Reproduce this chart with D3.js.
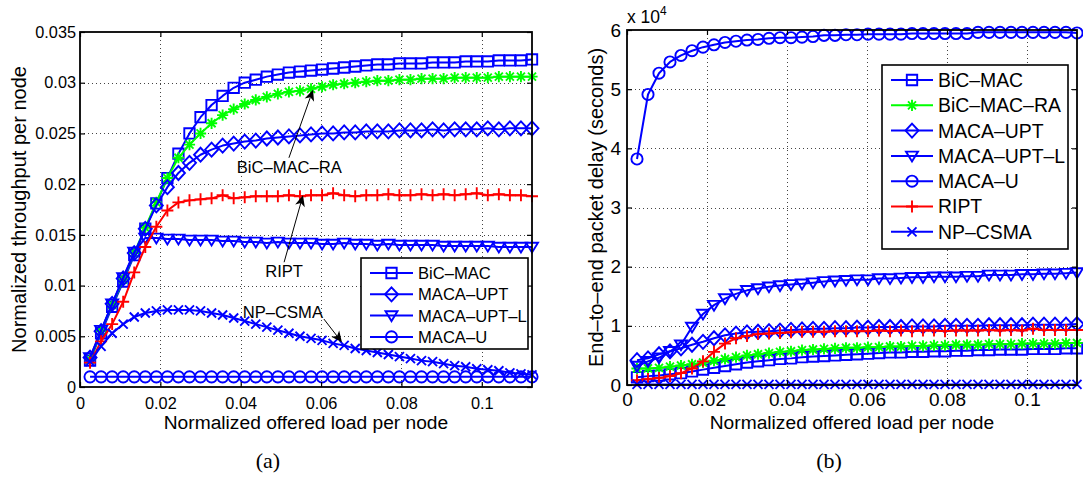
<!DOCTYPE html>
<html>
<head>
<meta charset="utf-8">
<script src="https://cdn.jsdelivr.net/npm/d3@7"></script>
<style>
  body { margin: 0; background: #fff; }
  svg { display: block; font-family: "Liberation Sans", Arial, Helvetica, sans-serif; }
</style>
</head>
<body>
<svg width="1083" height="481"></svg>
<script>
// offered load per node (x values, shared by both panels)
const load = [0.0025, 0.00525, 0.008, 0.01075, 0.0135, 0.01625, 0.019, 0.02175, 0.0245, 0.02725,
  0.03, 0.03275, 0.0355, 0.03825, 0.041, 0.04375, 0.0465, 0.04925, 0.052, 0.05475,
  0.0575, 0.06025, 0.063, 0.06575, 0.0685, 0.07125, 0.074, 0.07675, 0.0795, 0.08225,
  0.085, 0.08775, 0.0905, 0.09325, 0.096, 0.09875, 0.1015, 0.10425, 0.107, 0.10975, 0.1125];

// (a) normalized throughput per node
const thrBicMac = [0.0026, 0.0053, 0.0079, 0.0104, 0.0130, 0.0156, 0.0181, 0.0206, 0.0230, 0.0250,
  0.0266, 0.0278, 0.0287, 0.0295, 0.0300, 0.0303, 0.0306, 0.0308, 0.0310, 0.0311,
  0.0312, 0.0313, 0.0314, 0.0315, 0.0316, 0.0317, 0.0318, 0.0318, 0.0319, 0.0319,
  0.0319, 0.0320, 0.0320, 0.0320, 0.0321, 0.0321, 0.0321, 0.0322, 0.0322, 0.0322, 0.0323];
const thrBicMacRa = [0.0027, 0.0055, 0.0081, 0.0106, 0.0132, 0.0157, 0.0182, 0.0206, 0.0226, 0.0239,
  0.0250, 0.0260, 0.0268, 0.0274, 0.0279, 0.0283, 0.0286, 0.0289, 0.0291, 0.0292,
  0.0294, 0.0296, 0.0298, 0.0299, 0.0300, 0.0301, 0.0302, 0.0302, 0.0303, 0.0303,
  0.0304, 0.0304, 0.0304, 0.0305, 0.0305, 0.0305, 0.0305, 0.0306, 0.0306, 0.0306, 0.0306];
const thrMacaUpt = [0.0029, 0.0055, 0.0082, 0.0107, 0.0132, 0.0156, 0.0179, 0.0197, 0.0211, 0.0221,
  0.0229, 0.0234, 0.0238, 0.0240, 0.0242, 0.0243, 0.0245, 0.0246, 0.0247, 0.0248,
  0.0249, 0.0250, 0.0250, 0.0251, 0.0251, 0.0252, 0.0252, 0.0252, 0.0253, 0.0253,
  0.0253, 0.0254, 0.0253, 0.0254, 0.0254, 0.0254, 0.0255, 0.0254, 0.0255, 0.0255, 0.0255];
const thrMacaUptL = [0.0029, 0.0056, 0.0082, 0.0108, 0.0133, 0.0147, 0.0147, 0.0146, 0.0146, 0.0145,
  0.0145, 0.0145, 0.0144, 0.0144, 0.0143, 0.0143, 0.0142, 0.0143, 0.0142, 0.0142,
  0.0142, 0.0141, 0.0141, 0.0142, 0.0141, 0.0141, 0.0140, 0.0141, 0.0140, 0.0140,
  0.0140, 0.0140, 0.0139, 0.0139, 0.0139, 0.0139, 0.0139, 0.0138, 0.0138, 0.0138, 0.0138];
const thrMacaU = [0.0010, 0.0010, 0.0010, 0.0010, 0.0010, 0.0010, 0.0010, 0.0010, 0.0010, 0.0010,
  0.0010, 0.0010, 0.0010, 0.0010, 0.0010, 0.0010, 0.0010, 0.0010, 0.0010, 0.0010,
  0.0010, 0.0010, 0.0010, 0.0010, 0.0010, 0.0010, 0.0010, 0.0010, 0.0010, 0.0010,
  0.0010, 0.0010, 0.0010, 0.0010, 0.0010, 0.0010, 0.0010, 0.0010, 0.0010, 0.0010, 0.0010];
const thrRipt = [0.0024, 0.0045, 0.0062, 0.0084, 0.0113, 0.0138, 0.0158, 0.0174, 0.0182, 0.0184,
  0.0185, 0.0186, 0.0189, 0.0186, 0.0187, 0.0188, 0.0188, 0.0188, 0.0189, 0.0188,
  0.0189, 0.0189, 0.0191, 0.0189, 0.0188, 0.0189, 0.0189, 0.0190, 0.0189, 0.0189,
  0.0190, 0.0189, 0.0190, 0.0189, 0.0190, 0.0191, 0.0189, 0.0190, 0.0189, 0.0189, 0.0188];
const thrNpCsma = [0.0025, 0.0040, 0.0053, 0.0062, 0.0069, 0.0073, 0.0075, 0.0076, 0.0076, 0.0076,
  0.0075, 0.0073, 0.0071, 0.0068, 0.0065, 0.0062, 0.0059, 0.0056, 0.0053, 0.0050,
  0.0048, 0.0046, 0.0043, 0.0041, 0.0038, 0.0036, 0.0034, 0.0032, 0.0030, 0.0028,
  0.0026, 0.0025, 0.0023, 0.0021, 0.0020, 0.0018, 0.0017, 0.0016, 0.0014, 0.0013, 0.0012];

// (b) end-to-end packet delay, in units of 10^4 seconds
const delBicMac = [0.13, 0.15, 0.16, 0.18, 0.20, 0.23, 0.26, 0.29, 0.32, 0.35,
  0.38, 0.40, 0.42, 0.44, 0.45, 0.47, 0.48, 0.49, 0.50, 0.51,
  0.52, 0.53, 0.54, 0.55, 0.55, 0.56, 0.56, 0.57, 0.57, 0.58,
  0.58, 0.59, 0.59, 0.60, 0.60, 0.60, 0.61, 0.61, 0.61, 0.62, 0.62];
const delBicMacRa = [0.28, 0.28, 0.29, 0.31, 0.33, 0.35, 0.38, 0.41, 0.44, 0.47,
  0.50, 0.52, 0.54, 0.56, 0.57, 0.59, 0.60, 0.61, 0.62, 0.63,
  0.63, 0.64, 0.64, 0.65, 0.65, 0.66, 0.66, 0.67, 0.67, 0.68,
  0.68, 0.68, 0.69, 0.69, 0.69, 0.70, 0.70, 0.70, 0.70, 0.71, 0.71];
const delMacaUpt = [0.42, 0.45, 0.52, 0.57, 0.62, 0.68, 0.73, 0.79, 0.84, 0.87,
  0.89, 0.90, 0.91, 0.92, 0.93, 0.94, 0.95, 0.95, 0.96, 0.96,
  0.97, 0.97, 0.98, 0.98, 0.98, 0.99, 0.99, 0.99, 1.00, 1.00,
  1.00, 1.00, 1.01, 1.01, 1.01, 1.01, 1.02, 1.02, 1.02, 1.02, 1.03];
const delMacaUptL = [0.32, 0.40, 0.46, 0.57, 0.68, 0.98, 1.20, 1.35, 1.46, 1.54,
  1.60, 1.63, 1.66, 1.68, 1.70, 1.71, 1.73, 1.75, 1.76, 1.77,
  1.78, 1.78, 1.80, 1.80, 1.81, 1.82, 1.82, 1.83, 1.83, 1.83,
  1.84, 1.84, 1.86, 1.86, 1.86, 1.87, 1.87, 1.88, 1.88, 1.89, 1.90];
const delMacaU = [3.82, 4.91, 5.27, 5.46, 5.57, 5.65, 5.71, 5.75, 5.79, 5.81,
  5.83, 5.84, 5.86, 5.87, 5.87, 5.88, 5.89, 5.91, 5.91, 5.92,
  5.92, 5.93, 5.93, 5.93, 5.93, 5.94, 5.94, 5.94, 5.94, 5.94,
  5.94, 5.96, 5.96, 5.96, 5.96, 5.96, 5.96, 5.96, 5.96, 5.96, 5.95];
const delRipt = [0.08, 0.10, 0.12, 0.15, 0.20, 0.28, 0.40, 0.56, 0.70, 0.79,
  0.83, 0.86, 0.87, 0.88, 0.89, 0.90, 0.90, 0.90, 0.91, 0.91,
  0.91, 0.91, 0.92, 0.91, 0.92, 0.91, 0.92, 0.92, 0.91, 0.92,
  0.92, 0.92, 0.93, 0.92, 0.93, 0.92, 0.95, 0.93, 0.93, 0.93, 0.93];
const delNpCsma = [0.01, 0.01, 0.01, 0.01, 0.01, 0.01, 0.01, 0.01, 0.01, 0.01,
  0.01, 0.01, 0.01, 0.01, 0.01, 0.01, 0.01, 0.01, 0.01, 0.01,
  0.01, 0.01, 0.01, 0.01, 0.01, 0.01, 0.01, 0.01, 0.01, 0.01,
  0.01, 0.01, 0.01, 0.01, 0.01, 0.01, 0.01, 0.01, 0.01, 0.01, 0.01];

// ticks
const xTicks = [0, 0.02, 0.04, 0.06, 0.08, 0.1];
const xTickLabels = ['0', '0.02', '0.04', '0.06', '0.08', '0.1'];
const thrTicks = [0, 0.005, 0.01, 0.015, 0.02, 0.025, 0.03, 0.035];
const thrTickLabels = ['0', '0.005', '0.01', '0.015', '0.02', '0.025', '0.03', '0.035'];
const delTicks = [0, 1, 2, 3, 4, 5, 6];
const delTickLabels = ['0', '1', '2', '3', '4', '5', '6'];

const names = ['BiC–MAC', 'BiC–MAC–RA', 'MACA–UPT', 'MACA–UPT–L', 'MACA–U', 'RIPT', 'NP–CSMA'];
const leftLegendNames = ['BiC–MAC', 'MACA–UPT', 'MACA–UPT–L', 'MACA–U'];

const style = {
  'BiC–MAC':    { color: '#0000ff', marker: 'square' },
  'BiC–MAC–RA': { color: '#00ff00', marker: 'star' },
  'MACA–UPT':   { color: '#0000ff', marker: 'diamond' },
  'MACA–UPT–L': { color: '#0000ff', marker: 'triangle' },
  'MACA–U':     { color: '#0000ff', marker: 'circle' },
  'RIPT':       { color: '#ff0000', marker: 'plus' },
  'NP–CSMA':    { color: '#0000ff', marker: 'cross' }
};

const markerPath = {
  square:   'M-5.2,-5.2H5.2V5.2H-5.2Z',
  diamond:  'M0,-7L6.5,0L0,7L-6.5,0Z',
  triangle: 'M-6,-4.3L6,-4.3L0,5.5Z',
  circle:   'M5.6,0A5.6,5.6 0 1,1 -5.6,0A5.6,5.6 0 1,1 5.6,0Z',
  plus:     'M-6,0H6M0,-6V6',
  cross:    'M-4.5,-4.5L4.5,4.5M-4.5,4.5L4.5,-4.5',
  star:     'M-5.6,0H5.6M0,-5.6V5.6M-4,-4L4,4M-4,4L4,-4'
};

const svg = d3.select('svg');

function drawMarker(sel, type, color) {
  return sel.attr('d', markerPath[type])
    .attr('fill', 'none')
    .attr('stroke', color)
    .attr('stroke-width', 1.9);
}

function arrow(g, x1, y1, x2, y2) {
  const dx = x2 - x1, dy = y2 - y1, len = Math.hypot(dx, dy);
  const ux = dx / len, uy = dy / len, px = -uy, py = ux;
  const hl = 11, hw = 5, back = 8;
  g.append('line')
    .attr('x1', x1).attr('y1', y1)
    .attr('x2', x2 - ux * back).attr('y2', y2 - uy * back)
    .attr('stroke', '#000').attr('stroke-width', 1);
  g.append('path')
    .attr('d', `M${x2},${y2}L${x2 - ux * hl + px * hw},${y2 - uy * hl + py * hw}` +
      `L${x2 - ux * back},${y2 - uy * back}L${x2 - ux * hl - px * hw},${y2 - uy * hl - py * hw}Z`)
    .attr('fill', '#000');
}

function panel(p) {
  const x = d3.scaleLinear().domain([0, 0.1125]).range([p.x0, p.x1]);
  const y = d3.scaleLinear().domain(p.yDomain).range([p.y1, p.y0]);
  const g = svg.append('g');

  // dotted grid
  const grid = g.append('g')
    .attr('stroke', '#444').attr('stroke-width', 1).attr('stroke-dasharray', '1,3');
  grid.selectAll('.gx').data(xTicks.filter(t => t > 0)).join('line')
    .attr('x1', d => Math.round(x(d)) + 0.5).attr('x2', d => Math.round(x(d)) + 0.5)
    .attr('y1', p.y0).attr('y2', p.y1);
  grid.selectAll('.gy').data(p.yTicks.filter(t => t > p.yDomain[0] && t < p.yDomain[1])).join('line')
    .attr('y1', d => Math.round(y(d)) + 0.5).attr('y2', d => Math.round(y(d)) + 0.5)
    .attr('x1', p.x0).attr('x2', p.x1);

  // series
  const line = d3.line().x((d, i) => x(load[i])).y(d => y(d));
  p.series.forEach(s => {
    const st = style[s.name];
    const sg = g.append('g');
    sg.append('path').datum(s.values)
      .attr('d', line)
      .attr('fill', 'none')
      .attr('stroke', st.color)
      .attr('stroke-width', 2)
      .attr('stroke-linejoin', 'round');
    sg.selectAll('path.m').data(s.values).join('path')
      .attr('class', 'm')
      .attr('transform', (d, i) => `translate(${x(load[i])},${y(d)})`)
      .call(drawMarker, st.marker, st.color);
  });

  // axes, ticks inside on all four sides
  const fmtX = d => xTickLabels[xTicks.indexOf(d)];
  const fmtY = d => p.yTickLabels[p.yTicks.indexOf(d)];
  const axes = [
    g.append('g').attr('transform', `translate(0,${p.y1})`)
      .call(d3.axisBottom(x).tickValues(xTicks).tickFormat(fmtX).tickSize(-5).tickSizeOuter(0).tickPadding(p.xPad)),
    g.append('g').attr('transform', `translate(0,${p.y0})`)
      .call(d3.axisTop(x).tickValues(xTicks).tickFormat('').tickSize(-5).tickSizeOuter(0)),
    g.append('g').attr('transform', `translate(${p.x0},0)`)
      .call(d3.axisLeft(y).tickValues(p.yTicks).tickFormat(fmtY).tickSize(-5).tickSizeOuter(0).tickPadding(p.yPad)),
    g.append('g').attr('transform', `translate(${p.x1},0)`)
      .call(d3.axisRight(y).tickValues(p.yTicks).tickFormat('').tickSize(-5).tickSizeOuter(0))
  ];
  axes.forEach(a => {
    a.select('.domain').remove();
    a.attr('font-family', null).attr('font-size', p.tickFont);
    a.selectAll('line').attr('stroke-width', 1.2);
    a.selectAll('text').attr('fill', '#000');
  });
  g.append('rect')
    .attr('x', p.x0).attr('y', p.y0)
    .attr('width', p.x1 - p.x0).attr('height', p.y1 - p.y0)
    .attr('fill', 'none').attr('stroke', '#000').attr('stroke-width', 1.8);

  // axis labels
  g.append('text')
    .attr('x', (p.x0 + p.x1) / 2).attr('y', 429)
    .attr('text-anchor', 'middle').attr('font-size', 19.2)
    .text('Normalized offered load per node');
  g.append('text')
    .attr('transform', `translate(${p.yLabelX},${(p.y0 + p.y1) / 2}) rotate(-90)`)
    .attr('text-anchor', 'middle').attr('font-size', p.yLabelFont)
    .text(p.yLabel);

  // caption
  g.append('text')
    .attr('x', p.captionX).attr('y', 468)
    .attr('text-anchor', 'middle')
    .attr('font-family', '"Liberation Serif", "DejaVu Serif", serif')
    .attr('font-size', 22)
    .text(p.caption);

  // legend
  const L = p.legend;
  const lg = g.append('g');
  lg.append('rect')
    .attr('x', L.x).attr('y', L.y).attr('width', L.w).attr('height', L.h)
    .attr('fill', '#fff').attr('stroke', '#000').attr('stroke-width', 1.6);
  L.names.forEach((n, i) => {
    const st = style[n];
    const cy = L.y0 + i * L.dy;
    lg.append('line')
      .attr('x1', L.lx0).attr('x2', L.lx1).attr('y1', cy).attr('y2', cy)
      .attr('stroke', st.color).attr('stroke-width', 2);
    lg.append('path')
      .attr('transform', `translate(${(L.lx0 + L.lx1) / 2},${cy})`)
      .call(drawMarker, st.marker, st.color);
    lg.append('text')
      .attr('x', L.tx).attr('y', cy).attr('dy', '0.36em')
      .attr('font-size', L.font)
      .text(n);
  });

  return { g, x, y };
}

// (a)
const pa = panel({
  x0: 80, x1: 532, y0: 32, y1: 387,
  yDomain: [0, 0.035], yTicks: thrTicks, yTickLabels: thrTickLabels,
  tickFont: 16.3, xPad: 10, yPad: 4,
  yLabel: 'Normalized throughput per node', yLabelX: 26, yLabelFont: 20,
  caption: '(a)', captionX: 268,
  series: [
    { name: 'BiC–MAC', values: thrBicMac },
    { name: 'BiC–MAC–RA', values: thrBicMacRa },
    { name: 'MACA–UPT', values: thrMacaUpt },
    { name: 'MACA–UPT–L', values: thrMacaUptL },
    { name: 'MACA–U', values: thrMacaU },
    { name: 'RIPT', values: thrRipt },
    { name: 'NP–CSMA', values: thrNpCsma }
  ],
  legend: { x: 361, y: 258, w: 167, h: 91, names: leftLegendNames,
    y0: 273, dy: 21.3, lx0: 370, lx1: 413, tx: 418, font: 16.6 }
});

// annotations in data coordinates: text anchor, arrow tail, arrow head
const notes = [
  { text: 'BiC–MAC–RA', tx: 0.0521, ty: 0.0211, x1: 0.0520, y1: 0.0226, x2: 0.0580, y2: 0.0293 },
  { text: 'RIPT',       tx: 0.0508, ty: 0.0108, x1: 0.0508, y1: 0.0123, x2: 0.0555, y2: 0.0189 },
  { text: 'NP–CSMA',    tx: 0.0505, ty: 0.0068, x1: 0.0607, y1: 0.0067, x2: 0.0652, y2: 0.0044 }
];
notes.forEach(n => {
  pa.g.append('text')
    .attr('x', pa.x(n.tx)).attr('y', pa.y(n.ty))
    .attr('text-anchor', 'middle').attr('font-size', 16.6)
    .text(n.text);
  arrow(pa.g, pa.x(n.x1), pa.y(n.y1), pa.x(n.x2), pa.y(n.y2));
});

// (b)
const pb = panel({
  x0: 627, x1: 1077, y0: 30, y1: 385,
  yDomain: [0, 6], yTicks: delTicks, yTickLabels: delTickLabels,
  tickFont: 19, xPad: 8, yPad: 6,
  yLabel: 'End–to–end packet delay (seconds)', yLabelX: 603, yLabelFont: 20,
  caption: '(b)', captionX: 829,
  series: [
    { name: 'BiC–MAC', values: delBicMac },
    { name: 'BiC–MAC–RA', values: delBicMacRa },
    { name: 'MACA–UPT', values: delMacaUpt },
    { name: 'MACA–UPT–L', values: delMacaUptL },
    { name: 'MACA–U', values: delMacaU },
    { name: 'RIPT', values: delRipt },
    { name: 'NP–CSMA', values: delNpCsma }
  ],
  legend: { x: 882, y: 65, w: 186, h: 184, names: names,
    y0: 80, dy: 25.3, lx0: 891, lx1: 933, tx: 938, font: 19.4 }
});

// exponent label
const ex = pb.g.append('text').attr('x', 627).attr('y', 23).attr('font-size', 17.5);
ex.append('tspan').text('x 10');
ex.append('tspan').attr('font-size', 12).attr('dy', -8).text('4');
</script>
</body>
</html>
